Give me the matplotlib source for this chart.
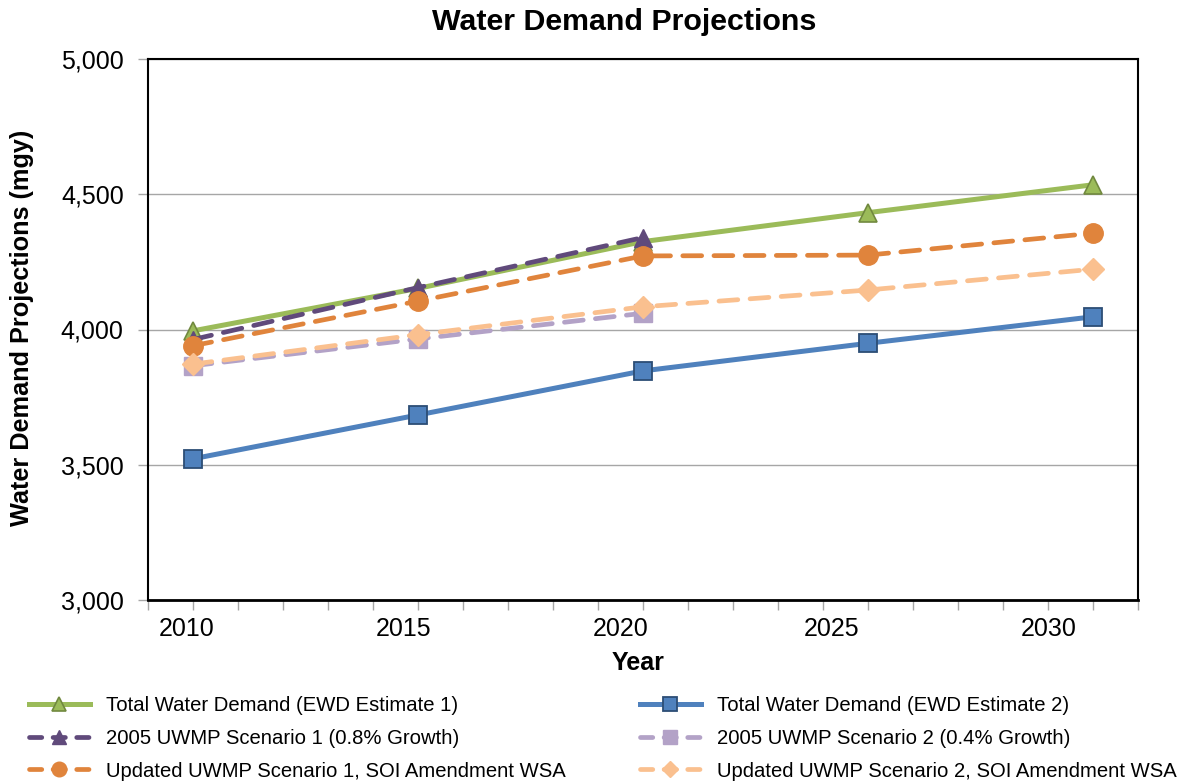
import matplotlib
matplotlib.use("Agg")
import matplotlib.pyplot as plt
from matplotlib.lines import Line2D
from matplotlib.ticker import FuncFormatter, FixedLocator, MultipleLocator

plt.rcParams['font.family'] = ['Liberation Sans', 'DejaVu Sans']

years = [2010, 2015, 2020, 2025, 2030]
ewd1 = [3995, 4152, 4325, 4432, 4535]
ewd2 = [3522, 3684, 3847, 3949, 4047]
uwmp1_years = [2010, 2015, 2020]
uwmp1 = [3963, 4155, 4340]
uwmp2_years = [2010, 2015, 2020]
uwmp2 = [3866, 3965, 4060]
upd1 = [3940, 4105, 4272, 4275, 4356]
upd2 = [3872, 3981, 4084, 4146, 4223]

labels = ["Total Water Demand (EWD Estimate 1)",
          "Total Water Demand (EWD Estimate 2)",
          "2005 UWMP Scenario 1 (0.8% Growth)",
          "2005 UWMP Scenario 2 (0.4% Growth)",
          "Updated UWMP Scenario 1, SOI Amendment WSA",
          "Updated UWMP Scenario 2, SOI Amendment WSA"]
xtick_labels = ["2010", "2015", "2020", "2025", "2030"]
yticks = [3000, 3500, 4000, 4500, 5000]

fig = plt.figure(figsize=(11.87, 7.82), dpi=100)
ax = fig.add_axes([148/1187, 1-600/782, (1138-148)/1187, (600-59)/782])

dash = (4.0, 2.6)
styles = [
    dict(color='#9BBB59', lw=3.6, marker='^', ms=13, mfc='#9BBB59', mec='#71893F', mew=1.2, zorder=3),
    dict(color='#4F81BD', lw=3.6, marker='s', ms=13, mfc='#4F81BD', mec='#2C4D75', mew=1.3, zorder=3),
    dict(color='#604A7B', lw=3.4, marker='^', ms=13, mfc='#604A7B', mec='#604A7B', dashes=dash,
         dash_capstyle='round', zorder=4),
    dict(color='#B3A2C7', lw=3.4, marker='s', ms=13, mfc='#B3A2C7', mec='#B3A2C7', dashes=dash,
         dash_capstyle='round', zorder=4),
    dict(color='#E0843C', lw=3.4, marker='o', ms=14, mfc='#E0843C', mec='#E0843C', dashes=dash,
         dash_capstyle='round', zorder=5),
    dict(color='#FAC08F', lw=3.4, marker='D', ms=11, mfc='#FAC08F', mec='#FAC08F', dashes=dash,
         dash_capstyle='round', zorder=5),
]
series = [(years, ewd1), (years, ewd2), (uwmp1_years, uwmp1), (uwmp2_years, uwmp2),
          (years, upd1), (years, upd2)]
handles = []
for (xs, ys), st, lab in zip(series, styles, labels):
    ax.plot(xs, ys, label=lab, **st)
    hst = dict(st)
    hst['ms'] = st['ms'] * 0.75
    hst.pop('zorder')
    if 'dashes' in hst:
        hst['dashes'] = (2.6, 2.4)
    handles.append(Line2D([], [], **hst))

ax.set_xlim(2009, 2031)
ax.set_ylim(3000, 5000)
ax.set_yticks(yticks)
ax.yaxis.set_major_formatter(FuncFormatter(lambda v, p: f"{int(v):,}"))
ax.grid(axis='y', color='#A6A6A6', lw=1.0, zorder=0)
ax.tick_params(axis='y', length=7, width=1, color='#A6A6A6', labelsize=18, pad=10.5)

# x axis: yearly minor ticks, labels placed as in the original
xlab_pos = [2009.85, 2014.67, 2019.5, 2024.2, 2029.02]
ax.xaxis.set_major_locator(FixedLocator(xlab_pos))
ax.set_xticklabels(xtick_labels)
ax.xaxis.set_minor_locator(MultipleLocator(1))
ax.tick_params(axis='x', which='major', length=0, labelsize=18, pad=12)
ax.tick_params(axis='x', which='minor', length=7, width=1, color='#A6A6A6')

for s in ax.spines.values():
    s.set_color('black')
    s.set_linewidth(1.5)
ax.spines['bottom'].set_linewidth(2.0)

fig.text(638/1187, 1-663/782, "Year", fontsize=18, fontweight='bold', ha='center', va='center')
fig.text(22/1187, 1-328/782, "Water Demand Projections (mgy)", rotation=90,
         fontsize=18.2, fontweight='bold', ha='center', va='center')
fig.text(624/1187, 1-22/782, "Water Demand Projections", fontsize=21.9,
         fontweight='bold', ha='center', va='center')

leg_kw = dict(frameon=False, fontsize=14.6, handlelength=3.0, handletextpad=0.8,
              labelspacing=0.68, borderaxespad=0, borderpad=0)
leg1 = fig.legend(handles=[handles[0], handles[2], handles[4]],
                  labels=[labels[0], labels[2], labels[4]],
                  loc='upper left', bbox_to_anchor=(29/1187, 1-696/782), **leg_kw)
leg2 = fig.legend(handles=[handles[1], handles[3], handles[5]],
                  labels=[labels[1], labels[3], labels[5]],
                  loc='upper left', bbox_to_anchor=(640/1187, 1-696/782), **leg_kw)

fig.savefig("out.png", dpi=100)
